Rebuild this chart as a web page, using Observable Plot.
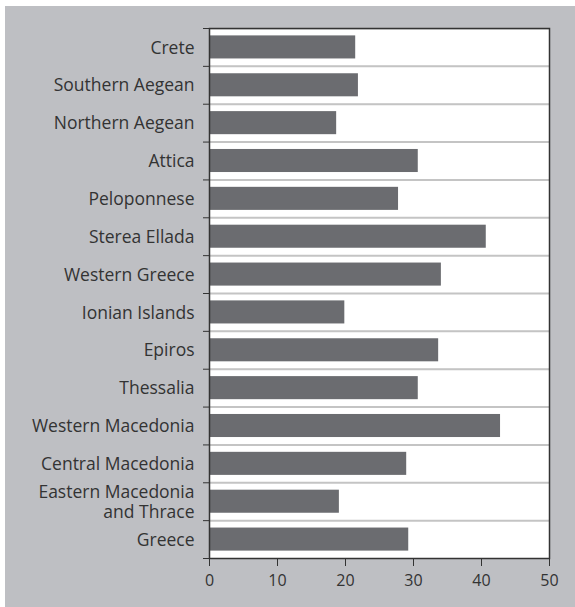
<!DOCTYPE html>
<html>
<head>
<meta charset="utf-8">
<script src="https://cdn.jsdelivr.net/npm/d3@7"></script>
<script src="https://cdn.jsdelivr.net/npm/@observablehq/plot@0.6"></script>
<style>
  html, body { margin: 0; background: #fff; overflow: hidden; }
  #chart { position: absolute; left: 5px; top: 6px; width: 570px; }
  #chart svg { display: block; }
</style>
</head>
<body>
<div id="chart"></div>
<script>
const regions = [
  'Crete', 'Southern Aegean', 'Northern Aegean', 'Attica', 'Peloponnese',
  'Sterea Ellada', 'Western Greece', 'Ionian Islands', 'Epiros', 'Thessalia',
  'Western Macedonia', 'Central Macedonia', 'Eastern Macedonia\nand Thrace', 'Greece'
]
const values = [21.5, 21.9, 18.7, 30.7, 27.8, 40.7, 34.1, 19.9, 33.7, 30.7, 42.8, 29.0, 19.1, 29.3]
const xTicks = [0, 10, 20, 30, 40, 50]

const data = regions.map((r, i) => ({region: r, value: values[i]}))

const W = 570, H = 601, mT = 22, mB = 49, mL = 204, mR = 26
const step = (H - mT - mB) / regions.length

let chart = Plot.plot({
  width: W,
  height: H,
  marginTop: mT,
  marginBottom: mB,
  marginLeft: mL,
  marginRight: mR,
  style: {
    background: '#bebfc3',
    fontFamily: '"Open Sans", sans-serif',
    fontSize: 17,
    color: '#333'
  },
  x: {domain: [0, 50]},
  y: {domain: regions, padding: 0, round: false, label: null},
  marks: [
    Plot.barX(regions, {y: d => d, x1: 0, x2: 50, fill: 'white'}),
    // grid lines between bands
    Plot.ruleY(regions, {y: d => d, dy: -step / 2, stroke: '#c4c4c4', strokeWidth: 2}),
    Plot.barX(data, {y: 'region', x: 'value', fill: '#6b6c70', insetTop: 7.4, insetBottom: 7.4}),
    // little outside ticks on band edges
    Plot.ruleY(regions, {y: d => d, dy: -step / 2, x1: 0, x2: 0, insetLeft: -6, stroke: '#333'}),
    Plot.ruleY(regions.slice(-1), {y: d => d, dy: step / 2, x1: 0, x2: 0, insetLeft: -6, stroke: '#333'}),
    Plot.frame({stroke: '#333', strokeWidth: 1.5}),
    Plot.axisY({tickSize: 0, tickPadding: 15, fontSize: 17.5, lineHeight: 1.1, label: null}),
    Plot.axisX(xTicks, {tickSize: 8, tickPadding: 8, fontSize: 16, label: null, stroke: '#333'})
  ]
})

d3.select('#chart').append(() => chart)
</script>
</body>
</html>
